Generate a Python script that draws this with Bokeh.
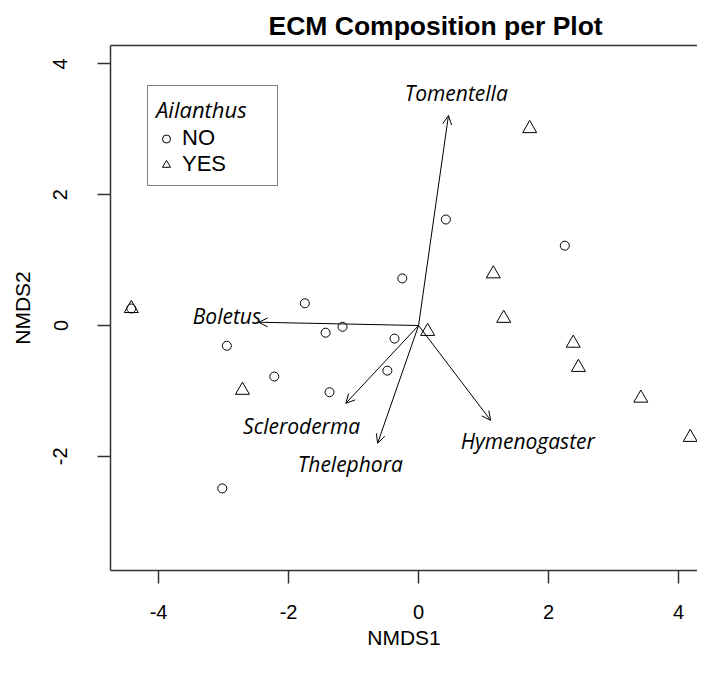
from bokeh.plotting import figure
from bokeh.models import (ColumnDataSource, Range1d, FixedTicker, Arrow, OpenHead,
                          Legend, LegendItem, LinearAxis)
from bokeh.embed import file_html
from bokeh.resources import INLINE
from bokeh.core.properties import value

# --- data -------------------------------------------------------------
no_x = [-4.42, -1.75, -2.95, -2.22, -1.43, -1.17, -1.37, -3.02, -0.25, -0.37, -0.48, 0.42, 2.25]
no_y = [0.26, 0.34, -0.31, -0.78, -0.11, -0.02, -1.02, -2.49, 0.72, -0.20, -0.69, 1.62, 1.22]

yes_x = [-4.42, -2.71, 0.14, 1.71, 1.15, 1.31, 2.38, 2.46, 3.42, 4.18]
yes_y = [0.26, -0.99, -0.09, 3.01, 0.79, 0.11, -0.27, -0.64, -1.11, -1.71]

genera = ["Tomentella", "Boletus", "Scleroderma", "Thelephora", "Hymenogaster"]
vec_x = [0.46, -2.46, -1.12, -0.63, 1.11]
vec_y = [3.21, 0.05, -1.19, -1.80, -1.45]
lab_x = [0.58, -2.95, -1.80, -1.05, 1.68]
lab_y = [3.56, 0.14, -1.53, -2.11, -1.76]

x_ticks = [-4, -2, 0, 2, 4]
x_tick_labels = ["-4", "-2", "0", "2", "4"]
y_ticks = [-2, 0, 2, 4]
y_tick_labels = ["-2", "0", "2", "4"]

title_text = "ECM Composition per Plot"
legend_title = "Ailanthus"
legend_labels = ["NO", "YES"]

# --- figure -----------------------------------------------------------
p = figure(width=697, height=660, output_backend="svg", toolbar_location=None,
           x_range=Range1d(-4.74, 4.292), y_range=Range1d(-3.745, 4.28),
           min_border_left=110, min_border_right=0, min_border_top=45,
           min_border_bottom=90, title=title_text)

p.title.align = "left"
p.title.offset = 158
p.title.text_font = "Liberation Sans"
p.title.text_font_size = "26.5px"
p.title.text_font_style = "bold"
p.title.text_color = "black"
p.title.standoff = 10

p.grid.visible = False
p.outline_line_color = None
p.background_fill_color = "white"
p.border_fill_color = "white"

xax = p.below[0]
yax = p.left[0]

for ax in (xax, yax):
    ax.axis_line_color = "#333333"
    ax.axis_line_width = 1.5
    ax.major_tick_out = 13
    ax.major_tick_in = 0
    ax.minor_tick_line_color = None
    ax.major_tick_line_color = "#333333"
    ax.major_tick_line_width = 1.5
    ax.major_label_text_font = "Liberation Sans"
    ax.major_label_text_font_size = "20px"
    ax.major_label_text_color = "black"
    ax.axis_label_text_font = "Liberation Sans"
    ax.axis_label_text_font_size = "21px"
    ax.axis_label_text_font_style = "normal"
    ax.axis_label_text_color = "black"

xax.ticker = FixedTicker(ticks=x_ticks)
xax.major_label_overrides = dict(zip(x_ticks, x_tick_labels))
xax.major_label_standoff = 21
xax.axis_label = "NMDS1"
xax.axis_label_standoff = 4

yax.ticker = FixedTicker(ticks=y_ticks)
yax.major_label_overrides = dict(zip(y_ticks, y_tick_labels))
yax.major_label_orientation = "vertical"
yax.major_label_standoff = 30
yax.axis_label = "NMDS2"
yax.axis_label_standoff = 17

# top border line (no right border: the reference is cropped on the right)
top_axis = LinearAxis(ticker=FixedTicker(ticks=[]), major_label_text_font_size="0px",
                      axis_line_color="#333333", axis_line_width=1.5,
                      major_tick_line_color=None, minor_tick_line_color=None,
                      major_tick_out=0, major_tick_in=0, major_label_standoff=0)
p.add_layout(top_axis, "above")

# --- points -----------------------------------------------------------
r_no = p.scatter(no_x, no_y, marker="circle", size=9, fill_color=None,
                 line_color="black", line_width=1)
r_yes = p.scatter(yes_x, yes_y, marker="triangle", size=14, fill_color=None,
                  line_color="black", line_width=1)

# --- vectors ----------------------------------------------------------
vsrc = ColumnDataSource(dict(x0=[0.0] * len(vec_x), y0=[0.0] * len(vec_y),
                             x1=vec_x, y1=vec_y))
p.add_layout(Arrow(end=OpenHead(size=9, line_width=1, line_color="black"),
                   source=vsrc, x_start="x0", y_start="y0", x_end="x1", y_end="y1",
                   line_width=1, line_color="black"))

p.text(x=lab_x, y=lab_y, text=genera, text_font=value("Open Sans"),
       text_font_style="italic", text_font_size="21px", text_color="black",
       text_align="center", text_baseline="middle")

# --- legend -----------------------------------------------------------
legend = Legend(items=[LegendItem(label=legend_labels[0], renderers=[r_no]),
                       LegendItem(label=legend_labels[1], renderers=[r_yes])],
                location=(37, 384), title=legend_title)
legend.title_text_font = "Open Sans"
legend.title_text_font_style = "italic"
legend.title_text_font_size = "22px"
legend.title_text_color = "black"
legend.title_standoff = 1
legend.label_text_font = "Liberation Sans"
legend.label_text_font_size = "22px"
legend.label_text_color = "black"
legend.border_line_color = "black"
legend.border_line_width = 1
legend.background_fill_alpha = 1.0
legend.padding = 8
legend.spacing = 0
legend.glyph_width = 20
legend.glyph_height = 21
legend.label_height = 21
legend.label_width = 87
legend.label_standoff = 6
legend.margin = 0
p.add_layout(legend)

open("out.html", "w").write(file_html(p, INLINE))
